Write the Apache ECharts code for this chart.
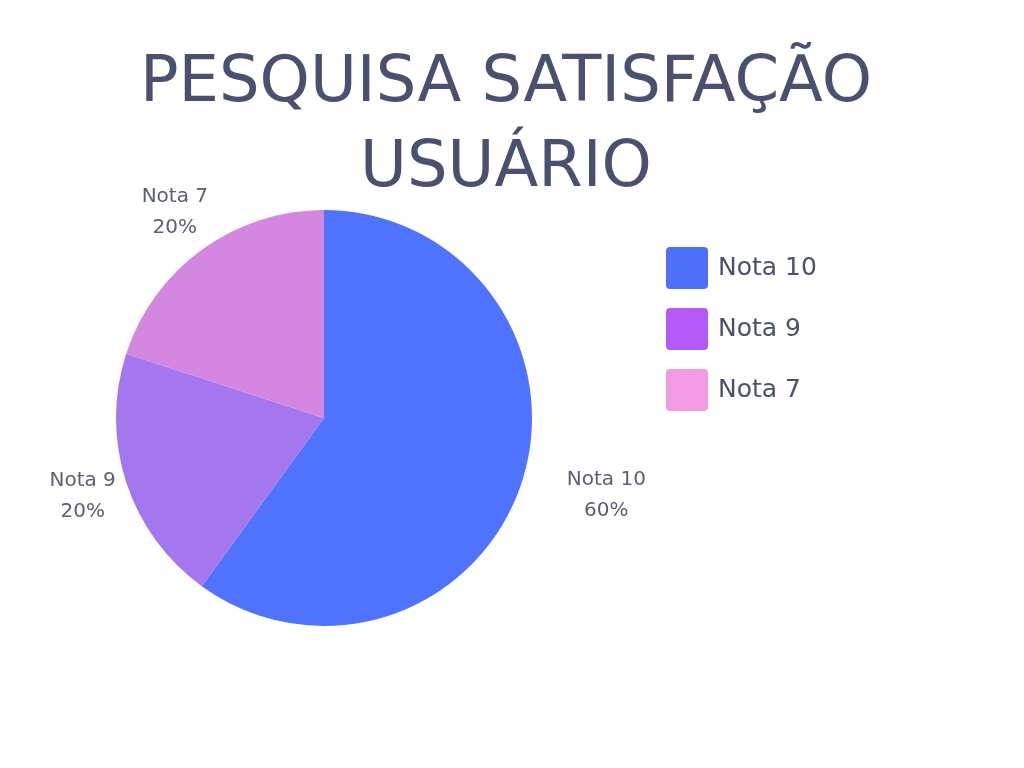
<!DOCTYPE html>
<html>
<head>
<meta charset="utf-8">
<script src="https://cdn.jsdelivr.net/npm/echarts@6/dist/echarts.min.js"></script>
<style>html,body{margin:0;padding:0;background:#fff}#c{width:1024px;height:768px}</style>
</head>
<body>
<div id="c"></div>
<script>
const titleText = 'PESQUISA SATISFAÇÃO\nUSUÁRIO';
const categories = ['Nota 10', 'Nota 9', 'Nota 7'];
const values = [60, 20, 20];
const sliceColors = ['#4f72ff', '#a577ef', '#d487e0'];
const legendColors = ['#4f6ff8', '#b35af7', '#f29ae2'];

const textColor = '#4a5070';
const fontFamily = 'DejaVu Sans';
const labelRadiusFactor = 1.22;
const labelNudge = { 'Nota 10': [41, -1] };
const legendIcon = 'path://M4,0H38Q42,0 42,4V38Q42,42 38,42H4Q0,42 0,38V4Q0,0 4,0Z';

const chart = echarts.init(document.getElementById('c'), null, { renderer: 'canvas' });

const option = {
  backgroundColor: '#ffffff',
  title: {
    text: titleText,
    left: 501,
    top: 37,
    textAlign: 'center',
    textStyle: {
      fontFamily: fontFamily,
      fontWeight: 'normal',
      fontSize: 64,
      lineHeight: 85,
      color: textColor
    }
  },
  legend: {
    orient: 'vertical',
    left: 661,
    top: 242,
    itemWidth: 42,
    itemHeight: 42,
    itemGap: 19,
    icon: legendIcon,
    textStyle: { fontFamily: fontFamily, fontSize: 25, color: textColor, padding: [0, 0, 0, 5] },
    data: categories.map((n, i) => ({ name: n, itemStyle: { color: legendColors[i] } }))
  },
  series: [{
    type: 'pie',
    center: [324, 418],
    radius: 208,
    startAngle: 90,
    clockwise: true,
    silent: true,
    label: {
      show: true,
      position: 'outside',
      formatter: '{b}\n{d}%',
      fontFamily: fontFamily,
      fontSize: 20,
      lineHeight: 31,
      color: '#5a5f72',
      align: 'center'
    },
    labelLine: { show: false },
    labelLayout: function (params) {
      const data = chart.getModel().getSeriesByIndex(params.seriesIndex).getData();
      const lay = data.getItemLayout(params.dataIndex);
      const mid = (lay.startAngle + lay.endAngle) / 2;
      const name = data.getName(params.dataIndex);
      const nudge = labelNudge[name] || [0, 0];
      const R = lay.r * labelRadiusFactor;
      return {
        x: lay.cx + Math.cos(mid) * R + nudge[0],
        y: lay.cy + Math.sin(mid) * R + nudge[1],
        align: 'center',
        verticalAlign: 'middle'
      };
    },
    data: categories.map((n, i) => ({ name: n, value: values[i], itemStyle: { color: sliceColors[i] } }))
  }]
};
chart.setOption(option);
</script>
</body>
</html>
